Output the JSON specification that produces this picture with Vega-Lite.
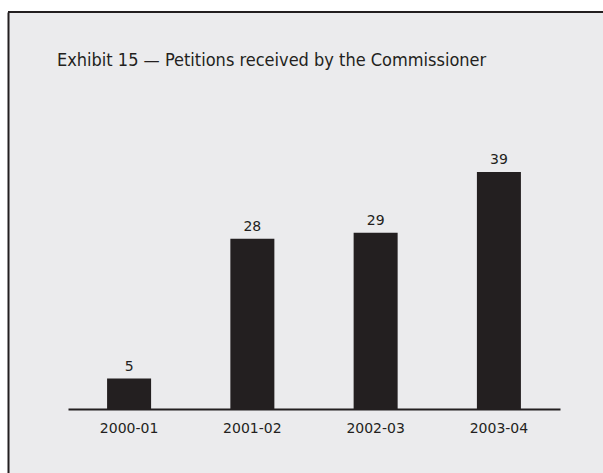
{
  "$schema": "https://vega.github.io/schema/vega-lite/v6.json",
  "autosize": {"type": "none"},
  "padding": {"left": 8, "top": 12, "right": 0, "bottom": 0},
  "width": 595,
  "height": 461,
  "background": "white",
  "title": {
    "text": "Exhibit 15 — Petitions received by the Commissioner",
    "orient": "top",
    "anchor": "start",
    "frame": "group",
    "dx": 49,
    "offset": -73,
    "baseline": "alphabetic",
    "font": "DejaVu Sans Condensed, Liberation Sans Narrow, sans-serif",
    "fontSize": 18,
    "fontWeight": "normal",
    "color": "#231f20"
  },
  "layer": [
    {
      "data": {"values": [{"edge": "top"}]},
      "mark": {"type": "rule", "color": "#231f20", "strokeWidth": 2},
      "encoding": {"y": {"datum": 65.3, "type": "quantitative"}}
    },
    {
      "data": {
        "values": [
          {"year": "2000-01", "petitions": 5},
          {"year": "2001-02", "petitions": 28},
          {"year": "2002-03", "petitions": 29},
          {"year": "2003-04", "petitions": 39}
        ]
      },
      "encoding": {
        "x": {
          "field": "year",
          "type": "nominal",
          "sort": null,
          "scale": {"range": [60, 552], "paddingInner": 0.643, "paddingOuter": 0.317},
          "axis": {
            "title": null,
            "orient": "bottom",
            "offset": -64,
            "labelAngle": 0,
            "ticks": false,
            "tickSize": 0,
            "labelPadding": 12,
            "labelFont": "DejaVu Sans",
            "labelFontSize": 14,
            "labelColor": "#231f20",
            "domainColor": "#231f20",
            "domainWidth": 2,
            "grid": false
          }
        },
        "y": {
          "field": "petitions",
          "type": "quantitative",
          "scale": {"domain": [-10.53, 65.3], "nice": false, "zero": false},
          "axis": {
            "title": null,
            "orient": "left",
            "labels": false,
            "ticks": false,
            "grid": false,
            "domainColor": "#231f20",
            "domainWidth": 2
          }
        }
      },
      "layer": [
        {"mark": {"type": "bar", "color": "#231f20"}},
        {
          "mark": {
            "type": "text",
            "baseline": "alphabetic",
            "dy": -8,
            "font": "DejaVu Sans",
            "fontSize": 14,
            "color": "#231f20"
          },
          "encoding": {"text": {"field": "petitions", "type": "quantitative"}}
        }
      ]
    }
  ],
  "config": {
    "view": {
      "fill": "#ebebed",
      "stroke": null
    }
  }
}
